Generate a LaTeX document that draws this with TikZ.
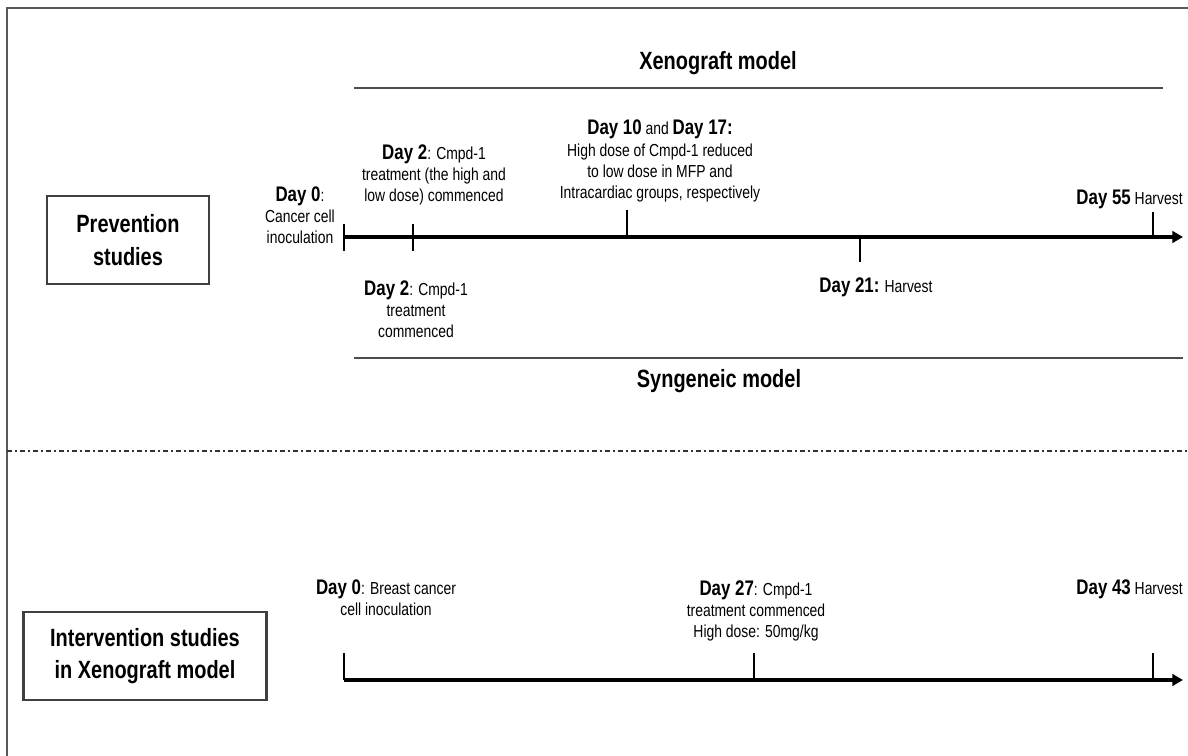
\documentclass[tikz,border=0pt]{standalone}
\usepackage{fontspec}
\setmainfont{Liberation Sans}[FakeStretch=0.8]
\usepackage{tikz}
\usetikzlibrary{positioning,arrows.meta}

\newcommand{\dagb}[1]{{\fontsize{12}{14}\selectfont\bfseries #1}}

\begin{document}
\begin{tikzpicture}[x=0.02cm, y=-0.02cm,
			>={Triangle[length=6pt,width=6.5pt]},
			klein/.style={font=\fontsize{9.9}{12}\selectfont, align=center, inner sep=0pt},
			titel/.style={font=\fontsize{14.2}{18}\selectfont\bfseries, align=center, inner sep=0pt},
			studiebox/.style={draw=black!75, line width=1.2pt, font=\fontsize{14.2}{18.5}\selectfont\bfseries, align=center, minimum height=1.76cm},
			tijdlijn/.style={line width=2.1pt},
			tik/.style={line width=1.5pt},
			modellijn/.style={draw=black!70, line width=1.3pt},
			kader/.style={draw=black!65, line width=1.2pt}
			]
			\useasboundingbox (0,0) rectangle (1188,756);
			
			% Kader en scheidingslijn
			\draw[kader] (7,756) -- (7,8) -- (1188,8);
			\coordinate (sepL) at (7,451);
			\coordinate (sepR) at (1188,451);
			\draw[black!80, line width=1pt, dash pattern=on 3pt off 1.7pt on 1pt off 1.7pt] (sepL) -- (sepR);
			
			% Bovenste deel: preventie
			\node[studiebox, minimum width=3.24cm] (Prev) at (128,240) {Prevention\\studies};
			
			\node[titel] (Xeno) at (718,63) {Xenograft model};
			\coordinate (xenoL) at (354,88);
			\coordinate (xenoR) at (1163,88);
			\draw[modellijn] (xenoL) -- (xenoR);
			
			\node[titel] (Syng) at (719,381) {Syngeneic model};
			\coordinate (syngL) at (354,358);
			\coordinate (syngR) at (1183,358);
			\draw[modellijn] (syngL) -- (syngR);
			
			% Tijdlijn preventie
			\coordinate (p0)  at (344,237);
			\coordinate (p2)  at (413,237);
			\coordinate (p10) at (627,237);
			\coordinate (p21) at (860,237);
			\coordinate (p55) at (1153,237);
			\coordinate (pEnd) at (1183,237);
			\draw[tijdlijn, ->] (p0) -- (pEnd);
			\draw[tik] (p0) ++(0,-13) -- ++(0,27);
			\draw[tik] (p2) ++(0,-13) -- ++(0,27);
			\draw[tik] (p10) -- ++(0,-27);
			\draw[tik] (p21) -- ++(0,25);
			\draw[tik] (p55) -- ++(0,-25);
			
			\node[klein] (D0)   at (300,215) {\dagb{Day 0}:\\Cancer cell\\inoculation};
			\node[klein] (D2a)  at (434,175) {\dagb{Day 2}: Cmpd-1\\treatment (the high and\\low dose) commenced};
			\node[klein] (D10)  at (660,161) {\dagb{Day 10} and \dagb{Day 17:}\\High dose of Cmpd-1 reduced\\to low dose in MFP and\\Intracardiac groups, respectively};
			\node[klein, anchor=east] (D55) at (1183,199) {\dagb{Day 55} Harvest};
			\node[klein] (D2b)  at (416,309) {\dagb{Day 2}: Cmpd-1\\treatment\\commenced};
			\node[klein] (D21)  at (876,287) {\dagb{Day 21:} Harvest};
			
			% Onderste deel: interventie
			\node[studiebox, minimum width=4.86cm] (Inter) at (145,656) {Intervention studies\\in Xenograft model};
			
			\coordinate (i0)  at (344,680);
			\coordinate (i27) at (754,680);
			\coordinate (i43) at (1153,680);
			\coordinate (iEnd) at (1183,680);
			\draw[tijdlijn, ->] (i0) -- (iEnd);
			\draw[tik] (i0) -- ++(0,-27);
			\draw[tik] (i27) -- ++(0,-27);
			\draw[tik] (i43) -- ++(0,-27);
			
			\node[klein] (I0)  at (386,598) {\dagb{Day 0}: Breast cancer\\cell inoculation};
			\node[klein] (I27) at (756,611) {\dagb{Day 27}: Cmpd-1\\treatment commenced\\High dose: 50mg/kg};
			\node[klein, anchor=east] (I43) at (1183,589) {\dagb{Day 43} Harvest};
			
		\end{tikzpicture}
\end{document}
